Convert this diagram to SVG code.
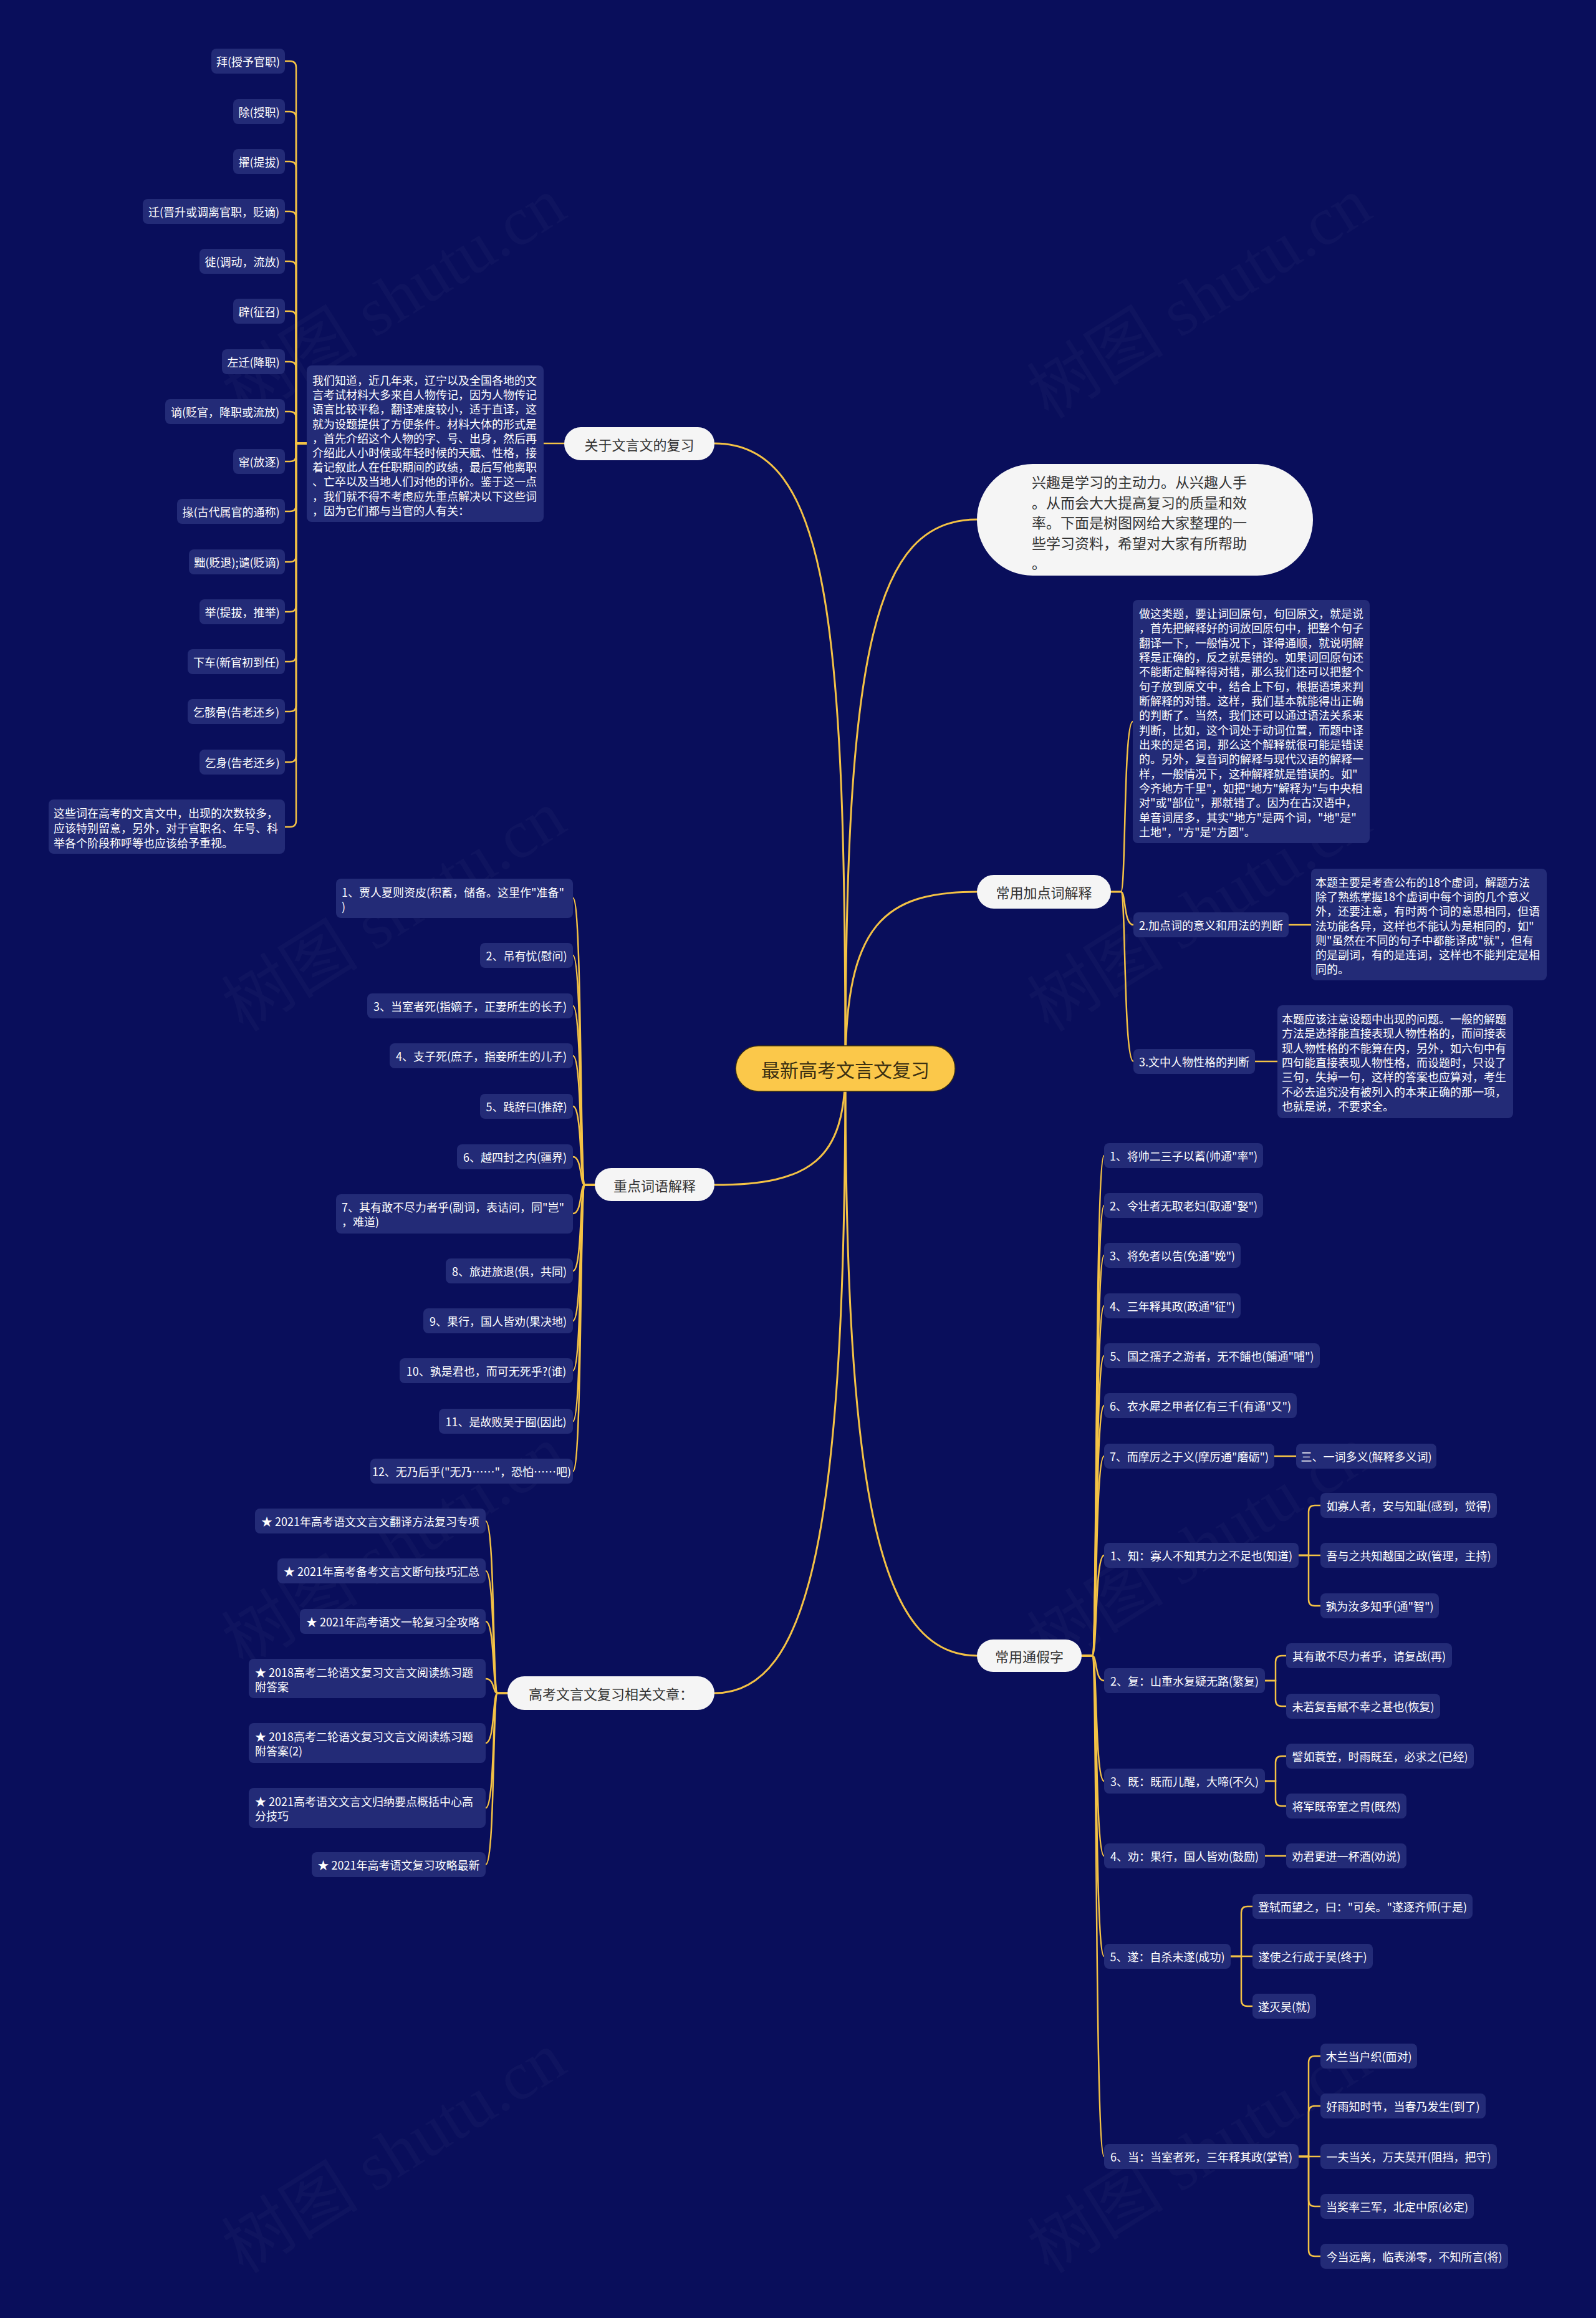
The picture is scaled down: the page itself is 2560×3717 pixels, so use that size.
<svg xmlns="http://www.w3.org/2000/svg" width="2560" height="3717" viewBox="0 0 2560 3717">
<style>
.box{fill:#232b77}
.pill{fill:#f5f5f5}
.t{font-family:"Noto Sans CJK SC","Noto Sans",sans-serif;font-size:18px;fill:#ffffff;dominant-baseline:central;text-anchor:middle}
.pt{font-family:"Noto Sans CJK SC","Noto Sans",sans-serif;font-size:22px;fill:#333333;dominant-baseline:central;text-anchor:middle}
.tl{text-anchor:start}
.ln{fill:none;stroke:#f4c245;stroke-width:2.5;stroke-linecap:round}
.main{fill:none;stroke:#f4c245;stroke-width:3}
.wm{font-family:"Liberation Serif","Noto Sans CJK SC",serif;font-size:110px;fill:#ffffff;fill-opacity:0.028}
</style>
<rect x="0" y="0" width="2560" height="3717" fill="#090e5b"/>
<g id="watermarks">
<text class="wm" transform="translate(652,510) rotate(-32)" text-anchor="middle">树图 shutu.cn</text>
<text class="wm" transform="translate(1944,510) rotate(-32)" text-anchor="middle">树图 shutu.cn</text>
<text class="wm" transform="translate(652,1493) rotate(-32)" text-anchor="middle">树图 shutu.cn</text>
<text class="wm" transform="translate(1944,1493) rotate(-32)" text-anchor="middle">树图 shutu.cn</text>
<text class="wm" transform="translate(652,2512) rotate(-32)" text-anchor="middle">树图 shutu.cn</text>
<text class="wm" transform="translate(1944,2512) rotate(-32)" text-anchor="middle">树图 shutu.cn</text>
<text class="wm" transform="translate(652,3484) rotate(-32)" text-anchor="middle">树图 shutu.cn</text>
<text class="wm" transform="translate(1944,3484) rotate(-32)" text-anchor="middle">树图 shutu.cn</text>
</g>
<g id="connectors">
<path class="main" d="M1356,1713 C1356,1000 1330,711 1146,711"/>
<path class="main" d="M1356,1713 C1356,1050 1400,833 1567,833"/>
<path class="main" d="M1356,1713 C1356,1480 1420,1430 1567,1430"/>
<path class="main" d="M1356,1713 C1356,1860 1300,1900 1146,1900"/>
<path class="main" d="M1356,1713 C1356,2450 1300,2715 1146,2715"/>
<path class="main" d="M1356,1713 C1356,2400 1410,2655 1567,2655"/>
<path class="ln" d="M905,711H872"/>
<path class="ln" d="M492,711H475V108Q475,98 465,98H457"/>
<path class="ln" d="M492,711H475V189Q475,179 465,179H457"/>
<path class="ln" d="M492,711H475V269Q475,259 465,259H457"/>
<path class="ln" d="M492,711H475V349Q475,339 465,339H457"/>
<path class="ln" d="M492,711H475V429Q475,419 465,419H457"/>
<path class="ln" d="M492,711H475V509Q475,499 465,499H457"/>
<path class="ln" d="M492,711H475V590Q475,580 465,580H457"/>
<path class="ln" d="M492,711H475V670Q475,660 465,660H457"/>
<path class="ln" d="M492,711H475V730Q475,740 465,740H457"/>
<path class="ln" d="M492,711H475V810Q475,820 465,820H457"/>
<path class="ln" d="M492,711H475V891Q475,901 465,901H457"/>
<path class="ln" d="M492,711H475V971Q475,981 465,981H457"/>
<path class="ln" d="M492,711H475V1051Q475,1061 465,1061H457"/>
<path class="ln" d="M492,711H475V1131Q475,1141 465,1141H457"/>
<path class="ln" d="M492,711H475V1212Q475,1222 465,1222H457"/>
<path class="ln" d="M492,711H475V1316Q475,1326 465,1326H457"/>
<path class="ln" d="M1782,1430H1798C1806,1430 1802,1157 1817,1157"/>
<path class="ln" d="M1782,1430H1798C1806,1430 1802,1483 1818,1483"/>
<path class="ln" d="M1782,1430H1798C1806,1430 1802,1702 1818,1702"/>
<path class="ln" d="M2067,1483H2103"/>
<path class="ln" d="M2013,1702H2049"/>
<path class="ln" d="M954,1900H938C930,1900 934,1440 919,1440"/>
<path class="ln" d="M954,1900H938C930,1900 934,1532 919,1532"/>
<path class="ln" d="M954,1900H938C930,1900 934,1613 919,1613"/>
<path class="ln" d="M954,1900H938C930,1900 934,1693 919,1693"/>
<path class="ln" d="M954,1900H938C930,1900 934,1774 919,1774"/>
<path class="ln" d="M954,1900H938C930,1900 934,1855 919,1855"/>
<path class="ln" d="M954,1900H938C930,1900 934,1946 919,1946"/>
<path class="ln" d="M954,1900H938C930,1900 934,2038 919,2038"/>
<path class="ln" d="M954,1900H938C930,1900 934,2118 919,2118"/>
<path class="ln" d="M954,1900H938C930,1900 934,2198 919,2198"/>
<path class="ln" d="M954,1900H938C930,1900 934,2279 919,2279"/>
<path class="ln" d="M954,1900H938C930,1900 934,2359 919,2359"/>
<path class="ln" d="M814,2715H798C790,2715 794,2439 779,2439"/>
<path class="ln" d="M814,2715H798C790,2715 794,2519 779,2519"/>
<path class="ln" d="M814,2715H798C790,2715 794,2600 779,2600"/>
<path class="ln" d="M814,2715H798C790,2715 794,2692 779,2692"/>
<path class="ln" d="M814,2715H798C790,2715 794,2795 779,2795"/>
<path class="ln" d="M814,2715H798C790,2715 794,2899 779,2899"/>
<path class="ln" d="M814,2715H798C790,2715 794,2990 779,2990"/>
<path class="ln" d="M1735,2655H1752C1760,2655 1756,1853 1771,1853"/>
<path class="ln" d="M1735,2655H1752C1760,2655 1756,1933 1771,1933"/>
<path class="ln" d="M1735,2655H1752C1760,2655 1756,2013 1771,2013"/>
<path class="ln" d="M1735,2655H1752C1760,2655 1756,2094 1771,2094"/>
<path class="ln" d="M1735,2655H1752C1760,2655 1756,2174 1771,2174"/>
<path class="ln" d="M1735,2655H1752C1760,2655 1756,2254 1771,2254"/>
<path class="ln" d="M1735,2655H1752C1760,2655 1756,2335 1771,2335"/>
<path class="ln" d="M1735,2655H1752C1760,2655 1756,2494 1771,2494"/>
<path class="ln" d="M1735,2655H1752C1760,2655 1756,2695 1771,2695"/>
<path class="ln" d="M1735,2655H1752C1760,2655 1756,2856 1771,2856"/>
<path class="ln" d="M1735,2655H1752C1760,2655 1756,2976 1771,2976"/>
<path class="ln" d="M1735,2655H1752C1760,2655 1756,3137 1771,3137"/>
<path class="ln" d="M1735,2655H1752C1760,2655 1756,3458 1771,3458"/>
<path class="ln" d="M2044,2335H2079"/>
<path class="ln" d="M2083,2494H2099V2424Q2099,2414 2109,2414H2118"/>
<path class="ln" d="M2083,2494H2118"/>
<path class="ln" d="M2083,2494H2099V2565Q2099,2575 2109,2575H2118"/>
<path class="ln" d="M2029,2695H2046V2665Q2046,2655 2056,2655H2063"/>
<path class="ln" d="M2029,2695H2046V2726Q2046,2736 2056,2736H2063"/>
<path class="ln" d="M2029,2856H2046V2826Q2046,2816 2056,2816H2063"/>
<path class="ln" d="M2029,2856H2046V2886Q2046,2896 2056,2896H2063"/>
<path class="ln" d="M2029,2976H2063"/>
<path class="ln" d="M1974,3137H1991V3067Q1991,3057 2001,3057H2009"/>
<path class="ln" d="M1974,3137H2009"/>
<path class="ln" d="M1974,3137H1991V3207Q1991,3217 2001,3217H2009"/>
<path class="ln" d="M2083,3458H2099V3307Q2099,3297 2109,3297H2118"/>
<path class="ln" d="M2083,3458H2099V3387Q2099,3377 2109,3377H2118"/>
<path class="ln" d="M2083,3458H2118"/>
<path class="ln" d="M2083,3458H2099V3528Q2099,3538 2109,3538H2118"/>
<path class="ln" d="M2083,3458H2099V3608Q2099,3618 2109,3618H2118"/>
</g>
<g id="center"><rect x="1180" y="1677" width="352" height="73" rx="36.5" fill="#fbc84a" stroke="#3a2f12" stroke-width="1.5"/><text x="1356" y="1713.5" class="pt" style="font-size:30px;fill:#3a2f12">最新高考文言文复习</text></g>
<g id="b_guanyu"><rect class="pill" x="905" y="685" width="241" height="53" rx="26.5"/><text class="pt" x="1025.5" y="711.5">关于文言文的复习</text></g>
<g id="b_xingqu"><rect class="pill" x="1567" y="744" width="539" height="179" rx="89.5"/><text class="pt tl" style="font-size:23px" x="1655" y="772">兴趣是学习的主动力。从兴趣人手<tspan x="1655" y="804.5">。从而会大大提高复习的质量和效</tspan><tspan x="1655" y="837">率。下面是树图网给大家整理的一</tspan><tspan x="1655" y="869.5">些学习资料，希望对大家有所帮助</tspan><tspan x="1655" y="902">。</tspan></text></g>
<g id="b_jiadian"><rect class="pill" x="1567" y="1403" width="215" height="54" rx="27"/><text class="pt" x="1674.5" y="1430">常用加点词解释</text></g>
<g id="b_zhongdian"><rect class="pill" x="954" y="1873" width="192" height="53" rx="26.5"/><text class="pt" x="1050" y="1899.5">重点词语解释</text></g>
<g id="b_gaokao"><rect class="pill" x="814" y="2688" width="332" height="54" rx="27"/><text class="pt" x="980" y="2715">高考文言文复习相关文章：</text></g>
<g id="b_tongjia"><rect class="pill" x="1567" y="2629" width="168" height="52" rx="26"/><text class="pt" x="1651" y="2655">常用通假字</text></g>
<g id="p_women"><rect class="box" x="492" y="586" width="380" height="251" rx="8"/><text class="t tl" x="501" y="609">我们知道，近几年来，辽宁以及全国各地的文<tspan x="501" y="632.2">言考试材料大多来自人物传记，因为人物传记</tspan><tspan x="501" y="655.4">语言比较平稳，翻译难度较小，适于直译，这</tspan><tspan x="501" y="678.6">就为设题提供了方便条件。材料大体的形式是</tspan><tspan x="501" y="701.8">，首先介绍这个人物的字、号、出身，然后再</tspan><tspan x="501" y="725">介绍此人小时候或年轻时候的天赋、性格，接</tspan><tspan x="501" y="748.2">着记叙此人在任职期间的政绩，最后写他离职</tspan><tspan x="501" y="771.4">、亡卒以及当地人们对他的评价。鉴于这一点</tspan><tspan x="501" y="794.6">，我们就不得不考虑应先重点解决以下这些词</tspan><tspan x="501" y="817.8">，因为它们都与当官的人有关：</tspan></text></g>
<g id="l1"><rect class="box" x="339" y="78" width="118" height="40" rx="8"/><text class="t" x="398" y="98">拜(授予官职)</text></g>
<g id="l2"><rect class="box" x="374" y="159" width="83" height="40" rx="8"/><text class="t" x="415.5" y="179">除(授职)</text></g>
<g id="l3"><rect class="box" x="374" y="239" width="83" height="40" rx="8"/><text class="t" x="415.5" y="259">擢(提拔)</text></g>
<g id="l4"><rect class="box" x="229" y="319" width="228" height="40" rx="8"/><text class="t" x="343" y="339">迁(晋升或调离官职，贬谪)</text></g>
<g id="l5"><rect class="box" x="320" y="399" width="137" height="40" rx="8"/><text class="t" x="388.5" y="419">徙(调动，流放)</text></g>
<g id="l6"><rect class="box" x="374" y="479" width="83" height="40" rx="8"/><text class="t" x="415.5" y="499">辟(征召)</text></g>
<g id="l7"><rect class="box" x="356" y="560" width="101" height="40" rx="8"/><text class="t" x="406.5" y="580">左迁(降职)</text></g>
<g id="l8"><rect class="box" x="265" y="640" width="192" height="40" rx="8"/><text class="t" x="361" y="660">谪(贬官，降职或流放)</text></g>
<g id="l9"><rect class="box" x="374" y="720" width="83" height="40" rx="8"/><text class="t" x="415.5" y="740">窜(放逐)</text></g>
<g id="l10"><rect class="box" x="284" y="800" width="173" height="40" rx="8"/><text class="t" x="370.5" y="820">掾(古代属官的通称)</text></g>
<g id="l11"><rect class="box" x="303" y="881" width="154" height="40" rx="8"/><text class="t" x="380" y="901">黜(贬退);谴(贬谪)</text></g>
<g id="l12"><rect class="box" x="320" y="961" width="137" height="40" rx="8"/><text class="t" x="388.5" y="981">举(提拔，推举)</text></g>
<g id="l13"><rect class="box" x="301" y="1041" width="156" height="40" rx="8"/><text class="t" x="379" y="1061">下车(新官初到任)</text></g>
<g id="l14"><rect class="box" x="301" y="1121" width="156" height="40" rx="8"/><text class="t" x="379" y="1141">乞骸骨(告老还乡)</text></g>
<g id="l15"><rect class="box" x="320" y="1202" width="137" height="40" rx="8"/><text class="t" x="388.5" y="1222">乞身(告老还乡)</text></g>
<g id="l16"><rect class="box" x="78" y="1282" width="379" height="87" rx="8"/><text class="t tl" x="86" y="1303">这些词在高考的文言文中，出现的次数较多，<tspan x="86" y="1327">应该特别留意，另外，对于官职名、年号、科</tspan><tspan x="86" y="1351">举各个阶段称呼等也应该给予重视。</tspan></text></g>
<g id="p_a"><rect class="box" x="1817" y="962" width="380" height="390" rx="8"/><text class="t tl" x="1827" y="983">做这类题，要让词回原句，句回原文，就是说<tspan x="1827" y="1006.3">，首先把解释好的词放回原句中，把整个句子</tspan><tspan x="1827" y="1029.7">翻译一下，一般情况下，译得通顺，就说明解</tspan><tspan x="1827" y="1053">释是正确的，反之就是错的。如果词回原句还</tspan><tspan x="1827" y="1076.3">不能断定解释得对错，那么我们还可以把整个</tspan><tspan x="1827" y="1099.7">句子放到原文中，结合上下句，根据语境来判</tspan><tspan x="1827" y="1123">断解释的对错。这样，我们基本就能得出正确</tspan><tspan x="1827" y="1146.3">的判断了。当然，我们还可以通过语法关系来</tspan><tspan x="1827" y="1169.7">判断，比如，这个词处于动词位置，而题中译</tspan><tspan x="1827" y="1193">出来的是名词，那么这个解释就很可能是错误</tspan><tspan x="1827" y="1216.3">的。另外，复音词的解释与现代汉语的解释一</tspan><tspan x="1827" y="1239.7">样，一般情况下，这种解释就是错误的。如"</tspan><tspan x="1827" y="1263">今齐地方千里"，如把"地方"解释为"与中央相</tspan><tspan x="1827" y="1286.3">对"或"部位"，那就错了。因为在古汉语中，</tspan><tspan x="1827" y="1309.7">单音词居多，其实"地方"是两个词，"地"是"</tspan><tspan x="1827" y="1333">土地"，"方"是"方圆"。</tspan></text></g>
<g id="n_jd2"><rect class="box" x="1818" y="1463" width="249" height="40" rx="8"/><text class="t" x="1942.5" y="1483">2.加点词的意义和用法的判断</text></g>
<g id="p_c"><rect class="box" x="2103" y="1393" width="378" height="179" rx="8"/><text class="t tl" x="2110" y="1414">本题主要是考查公布的18个虚词，解题方法<tspan x="2110" y="1437.2">除了熟练掌握18个虚词中每个词的几个意义</tspan><tspan x="2110" y="1460.4">外，还要注意，有时两个词的意思相同，但语</tspan><tspan x="2110" y="1483.6">法功能各异，这样也不能认为是相同的，如"</tspan><tspan x="2110" y="1506.8">则"虽然在不同的句子中都能译成"就"，但有</tspan><tspan x="2110" y="1530">的是副词，有的是连词，这样也不能判定是相</tspan><tspan x="2110" y="1553.2">同的。</tspan></text></g>
<g id="n_jd3"><rect class="box" x="1818" y="1682" width="195" height="40" rx="8"/><text class="t" x="1915.5" y="1702">3.文中人物性格的判断</text></g>
<g id="p_e"><rect class="box" x="2049" y="1612" width="378" height="181" rx="8"/><text class="t tl" x="2056" y="1633">本题应该注意设题中出现的问题。一般的解题<tspan x="2056" y="1656.3">方法是选择能直接表现人物性格的，而间接表</tspan><tspan x="2056" y="1679.6">现人物性格的不能算在内，另外，如六句中有</tspan><tspan x="2056" y="1702.9">四句能直接表现人物性格，而设题时，只设了</tspan><tspan x="2056" y="1726.2">三句，失掉一句，这样的答案也应算对，考生</tspan><tspan x="2056" y="1749.5">不必去追究没有被列入的本来正确的那一项，</tspan><tspan x="2056" y="1772.8">也就是说，不要求全。</tspan></text></g>
<g id="z1"><rect class="box" x="539" y="1409" width="380" height="63" rx="8"/><text class="t tl" x="548" y="1430">1、贾人夏则资皮(积蓄，储备。这里作"准备"<tspan x="548" y="1453">)</tspan></text></g>
<g id="z2"><rect class="box" x="770" y="1512" width="149" height="40" rx="8"/><text class="t" x="844.5" y="1532">2、吊有忧(慰问)</text></g>
<g id="z3"><rect class="box" x="589" y="1593" width="330" height="40" rx="8"/><text class="t" x="754" y="1613">3、当室者死(指嫡子，正妻所生的长子)</text></g>
<g id="z4"><rect class="box" x="625" y="1673" width="294" height="40" rx="8"/><text class="t" x="772" y="1693">4、支子死(庶子，指妾所生的儿子)</text></g>
<g id="z5"><rect class="box" x="770" y="1754" width="149" height="40" rx="8"/><text class="t" x="844.5" y="1774">5、践辞曰(推辞)</text></g>
<g id="z6"><rect class="box" x="733" y="1835" width="186" height="40" rx="8"/><text class="t" x="826" y="1855">6、越四封之内(疆界)</text></g>
<g id="z7"><rect class="box" x="539" y="1915" width="380" height="63" rx="8"/><text class="t tl" x="548" y="1935">7、其有敢不尽力者乎(副词，表诘问，同"岂"<tspan x="548" y="1958">，难道)</tspan></text></g>
<g id="z8"><rect class="box" x="715" y="2018" width="204" height="40" rx="8"/><text class="t" x="817" y="2038">8、旅进旅退(俱，共同)</text></g>
<g id="z9"><rect class="box" x="679" y="2098" width="240" height="40" rx="8"/><text class="t" x="799" y="2118">9、果行，国人皆劝(果决地)</text></g>
<g id="z10"><rect class="box" x="641" y="2178" width="278" height="40" rx="8"/><text class="t" x="780" y="2198">10、孰是君也，而可无死乎?(谁)</text></g>
<g id="z11"><rect class="box" x="704" y="2259" width="215" height="40" rx="8"/><text class="t" x="811.5" y="2279">11、是故败吴于囿(因此)</text></g>
<g id="z12"><rect class="box" x="594" y="2339" width="325" height="40" rx="8"/><text class="t" x="756.5" y="2359">12、无乃后乎("无乃……"，恐怕……吧)</text></g>
<g id="g1"><rect class="box" x="409" y="2419" width="370" height="40" rx="8"/><text class="t" x="594" y="2439">★ 2021年高考语文文言文翻译方法复习专项</text></g>
<g id="g2"><rect class="box" x="445" y="2499" width="334" height="40" rx="8"/><text class="t" x="612" y="2519">★ 2021年高考备考文言文断句技巧汇总</text></g>
<g id="g3"><rect class="box" x="481" y="2580" width="298" height="40" rx="8"/><text class="t" x="630" y="2600">★ 2021年高考语文一轮复习全攻略</text></g>
<g id="g4"><rect class="box" x="399" y="2660" width="380" height="63" rx="8"/><text class="t tl" x="409" y="2681">★ 2018高考二轮语文复习文言文阅读练习题<tspan x="409" y="2704">附答案</tspan></text></g>
<g id="g5"><rect class="box" x="399" y="2763" width="380" height="64" rx="8"/><text class="t tl" x="409" y="2784">★ 2018高考二轮语文复习文言文阅读练习题<tspan x="409" y="2807">附答案(2)</tspan></text></g>
<g id="g6"><rect class="box" x="399" y="2867" width="380" height="64" rx="8"/><text class="t tl" x="409" y="2888">★ 2021高考语文文言文归纳要点概括中心高<tspan x="409" y="2911">分技巧</tspan></text></g>
<g id="g7"><rect class="box" x="500" y="2970" width="279" height="40" rx="8"/><text class="t" x="639.5" y="2990">★ 2021年高考语文复习攻略最新</text></g>
<g id="t1"><rect class="box" x="1771" y="1833" width="255" height="40" rx="8"/><text class="t" x="1898.5" y="1853">1、将帅二三子以蓄(帅通"率")</text></g>
<g id="t2"><rect class="box" x="1771" y="1913" width="255" height="40" rx="8"/><text class="t" x="1898.5" y="1933">2、令壮者无取老妇(取通"娶")</text></g>
<g id="t3"><rect class="box" x="1771" y="1993" width="219" height="40" rx="8"/><text class="t" x="1880.5" y="2013">3、将免者以告(免通"娩")</text></g>
<g id="t4"><rect class="box" x="1771" y="2074" width="219" height="40" rx="8"/><text class="t" x="1880.5" y="2094">4、三年释其政(政通"征")</text></g>
<g id="t5"><rect class="box" x="1771" y="2154" width="346" height="40" rx="8"/><text class="t" x="1944" y="2174">5、国之孺子之游者，无不餔也(餔通"哺")</text></g>
<g id="t6"><rect class="box" x="1771" y="2234" width="309" height="40" rx="8"/><text class="t" x="1925.5" y="2254">6、衣水犀之甲者亿有三千(有通"又")</text></g>
<g id="t7"><rect class="box" x="1771" y="2315" width="273" height="40" rx="8"/><text class="t" x="1907.5" y="2335">7、而摩厉之于义(摩厉通"磨砺")</text></g>
<g id="t7a"><rect class="box" x="2079" y="2315" width="225" height="40" rx="8"/><text class="t" x="2191.5" y="2335">三、一词多义(解释多义词)</text></g>
<g id="y1"><rect class="box" x="1771" y="2474" width="312" height="40" rx="8"/><text class="t" x="1927" y="2494">1、知：寡人不知其力之不足也(知道)</text></g>
<g id="y1a"><rect class="box" x="2118" y="2394" width="283" height="40" rx="8"/><text class="t" x="2259.5" y="2414">如寡人者，安与知耻(感到，觉得)</text></g>
<g id="y1b"><rect class="box" x="2118" y="2474" width="283" height="40" rx="8"/><text class="t" x="2259.5" y="2494">吾与之共知越国之政(管理，主持)</text></g>
<g id="y1c"><rect class="box" x="2118" y="2555" width="190" height="40" rx="8"/><text class="t" x="2213" y="2575">孰为汝多知乎(通"智")</text></g>
<g id="y2"><rect class="box" x="1771" y="2675" width="258" height="40" rx="8"/><text class="t" x="1900" y="2695">2、复：山重水复疑无路(繁复)</text></g>
<g id="y2a"><rect class="box" x="2063" y="2635" width="266" height="40" rx="8"/><text class="t" x="2196" y="2655">其有敢不尽力者乎，请复战(再)</text></g>
<g id="y2b"><rect class="box" x="2063" y="2716" width="247" height="40" rx="8"/><text class="t" x="2186.5" y="2736">未若复吾赋不幸之甚也(恢复)</text></g>
<g id="y3"><rect class="box" x="1771" y="2836" width="258" height="40" rx="8"/><text class="t" x="1900" y="2856">3、既：既而儿醒，大啼(不久)</text></g>
<g id="y3a"><rect class="box" x="2063" y="2796" width="301" height="40" rx="8"/><text class="t" x="2213.5" y="2816">譬如蓑笠，时雨既至，必求之(已经)</text></g>
<g id="y3b"><rect class="box" x="2063" y="2876" width="193" height="40" rx="8"/><text class="t" x="2159.5" y="2896">将军既帝室之胄(既然)</text></g>
<g id="y4"><rect class="box" x="1771" y="2956" width="258" height="40" rx="8"/><text class="t" x="1900" y="2976">4、劝：果行，国人皆劝(鼓励)</text></g>
<g id="y4a"><rect class="box" x="2063" y="2956" width="193" height="40" rx="8"/><text class="t" x="2159.5" y="2976">劝君更进一杯酒(劝说)</text></g>
<g id="y5"><rect class="box" x="1771" y="3117" width="203" height="40" rx="8"/><text class="t" x="1872.5" y="3137">5、遂：自杀未遂(成功)</text></g>
<g id="y5a"><rect class="box" x="2009" y="3037" width="353" height="40" rx="8"/><text class="t" x="2185.5" y="3057">登轼而望之，曰："可矣。"遂逐齐师(于是)</text></g>
<g id="y5b"><rect class="box" x="2009" y="3117" width="193" height="40" rx="8"/><text class="t" x="2105.5" y="3137">遂使之行成于吴(终于)</text></g>
<g id="y5c"><rect class="box" x="2009" y="3197" width="102" height="40" rx="8"/><text class="t" x="2060" y="3217">遂灭吴(就)</text></g>
<g id="y6"><rect class="box" x="1771" y="3438" width="312" height="40" rx="8"/><text class="t" x="1927" y="3458">6、当：当室者死，三年释其政(掌管)</text></g>
<g id="y6a"><rect class="box" x="2118" y="3277" width="155" height="40" rx="8"/><text class="t" x="2195.5" y="3297">木兰当户织(面对)</text></g>
<g id="y6b"><rect class="box" x="2118" y="3357" width="265" height="40" rx="8"/><text class="t" x="2250.5" y="3377">好雨知时节，当春乃发生(到了)</text></g>
<g id="y6c"><rect class="box" x="2118" y="3438" width="283" height="40" rx="8"/><text class="t" x="2259.5" y="3458">一夫当关，万夫莫开(阻挡，把守)</text></g>
<g id="y6d"><rect class="box" x="2118" y="3518" width="246" height="40" rx="8"/><text class="t" x="2241" y="3538">当奖率三军，北定中原(必定)</text></g>
<g id="y6e"><rect class="box" x="2118" y="3598" width="301" height="40" rx="8"/><text class="t" x="2268.5" y="3618">今当远离，临表涕零，不知所言(将)</text></g>
</svg>
